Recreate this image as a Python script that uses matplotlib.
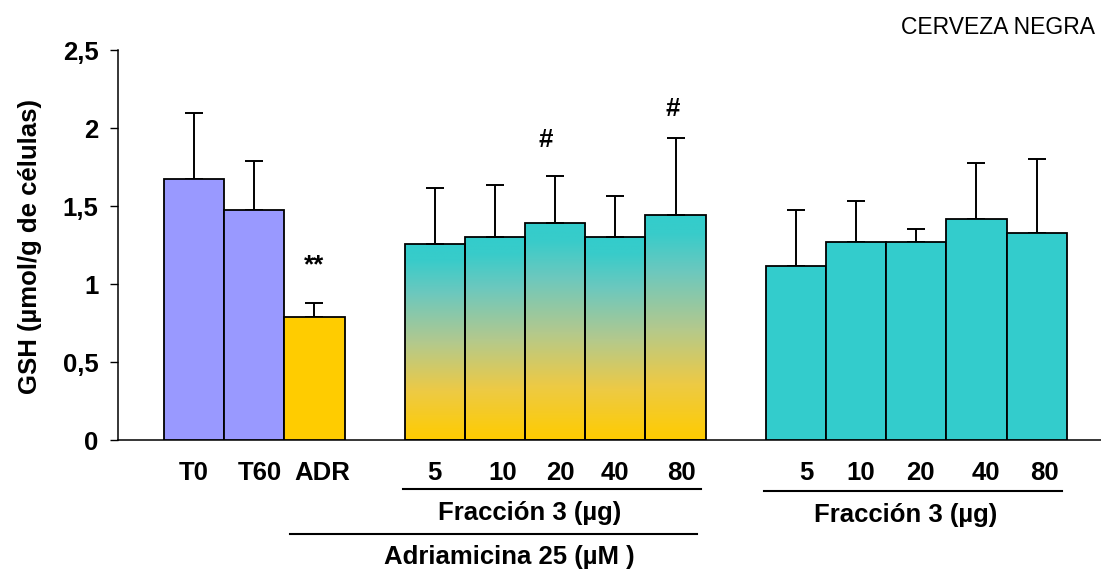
import matplotlib
matplotlib.use("Agg")
import matplotlib.pyplot as plt
import numpy as np
from matplotlib.colors import LinearSegmentedColormap
from matplotlib.transforms import blended_transform_factory
from matplotlib.lines import Line2D

plt.rcParams['font.family'] = ['Liberation Sans', 'DejaVu Sans']

# ---- data ----
control_labels = ["T0", "T60", "ADR"]
control_values = [1.673, 1.474, 0.788]
control_err_top = [2.096, 1.788, 0.878]

adr_labels = ["5", "10", "20", "40", "80"]
adr_values = [1.256, 1.301, 1.391, 1.301, 1.442]
adr_err_top = [1.615, 1.635, 1.692, 1.564, 1.936]

frac_labels = ["5", "10", "20", "40", "80"]
frac_values = [1.115, 1.269, 1.269, 1.417, 1.327]
frac_err_top = [1.474, 1.532, 1.353, 1.776, 1.801]

yticks = [0, 0.5, 1, 1.5, 2, 2.5]
ytick_labels = ["0", "0,5", "1", "1,5", "2", "2,5"]

# ---- layout ----
W, H = 1101, 570
FS = 18.5
fig = plt.figure(figsize=(W / 100, H / 100), dpi=100)
ax_left, ax_bottom, ax_top = 118, 440, 50
ax = fig.add_axes([ax_left / W, 1 - ax_bottom / H, 1 - ax_left / W, (ax_bottom - ax_top) / H])

x_ctrl = np.arange(3)
x_adr = np.arange(5) + 4
x_frac = np.arange(5) + 10
bw = 1.0

purple = "#9999FF"
yellow = "#FFCC00"
teal = "#33CCCC"
edge_kw = dict(edgecolor="black", linewidth=1.3, zorder=3)

ax.bar(x_ctrl, control_values, bw, color=[purple, purple, yellow], **edge_kw)
ax.bar(x_frac, frac_values, bw, color=teal, **edge_kw)
adr_bars = ax.bar(x_adr, adr_values, bw, color="none", **edge_kw)

cmap = LinearSegmentedColormap.from_list(
    "grad", [(0.0, "#FFCC00"), (0.25, "#EDCA45"), (0.5, "#B2C98E"),
             (0.75, "#6CC8BE"), (0.92, "#38CCCA"), (1.0, "#33CCCC")])
grad = np.linspace(0, 1, 256).reshape(-1, 1)
for b, xc, v in zip(adr_bars, x_adr, adr_values):
    im = ax.imshow(grad, cmap=cmap, aspect="auto", origin="lower",
                   extent=[xc - bw / 2, xc + bw / 2, 0, v], zorder=2)
    im.set_clip_path(b)

err_kw = dict(fmt="none", ecolor="black", elinewidth=1.4, capsize=6.5, capthick=1.4, zorder=2.5)
for xs, vals, tops in [(x_ctrl, control_values, control_err_top),
                       (x_adr, adr_values, adr_err_top),
                       (x_frac, frac_values, frac_err_top)]:
    vals = np.array(vals)
    tops = np.array(tops)
    ax.errorbar(xs, vals, yerr=[np.zeros_like(vals), tops - vals], **err_kw)

ax.set_xlim(-1.264, 15.07)
ax.set_ylim(0, 2.5)
ax.set_yticks(yticks)
ax.set_yticklabels(ytick_labels, fontsize=FS, fontweight="bold")
ax.tick_params(axis="y", direction="out", length=6, width=1, pad=8)
ax.set_xticks([])

trans = blended_transform_factory(ax.transData, fig.transFigure)
all_x = list(x_ctrl) + list(x_adr) + list(x_frac)
all_lab = control_labels + adr_labels + frac_labels
label_dx = [0, 0.1, 0.13, 0, 0.12, 0.08, 0, 0.1, 0.17, 0.07, 0.07, 0.15, 0.13]
for xc, lab, dx in zip(all_x, all_lab, label_dx):
    ax.text(xc + dx, 1 - 473 / H, lab, transform=trans, ha="center", va="center",
            fontsize=FS, fontweight="bold", clip_on=False)

for s in ["top", "right"]:
    ax.spines[s].set_visible(False)
ax.spines["left"].set_linewidth(1.1)
ax.spines["bottom"].set_linewidth(1.1)

# annotations
ax.annotate("**", xy=(x_ctrl[2], control_err_top[2]), xytext=(0, 38), textcoords="offset pixels",
            ha="center", va="center", fontsize=FS, fontweight="bold")
ax.annotate("#", xy=(x_adr[2], adr_err_top[2]), xytext=(-9, 36), textcoords="offset pixels",
            ha="center", va="center", fontsize=FS, fontweight="bold")
ax.annotate("#", xy=(x_adr[4], adr_err_top[4]), xytext=(-3, 29), textcoords="offset pixels",
            ha="center", va="center", fontsize=FS, fontweight="bold")

# group lines and labels
def hline(x0, x1, ypix):
    fig.add_artist(Line2D([x0, x1], [1 - ypix / H] * 2, transform=trans, color="black", linewidth=1.5))

hline(x_adr[0] - 0.53, x_adr[-1] + 0.42, 489)
ax.text(5.58, 1 - 513 / H, "Fracción 3 (µg)", transform=trans,
        ha="center", va="center", fontsize=FS, fontweight="bold")
hline(x_ctrl[2] - 0.4, x_adr[-1] + 0.35, 534)
ax.text(5.23, 1 - 557 / H, "Adriamicina 25 (µM )", transform=trans,
        ha="center", va="center", fontsize=FS, fontweight="bold")
hline(x_frac[0] - 0.53, x_frac[-1] + 0.42, 491)
ax.text(11.82, 1 - 515 / H, "Fracción 3 (µg)", transform=trans,
        ha="center", va="center", fontsize=FS, fontweight="bold")

fig.text(30 / W, 1 - 247 / H, "GSH (µmol/g de células)", rotation=90, ha="center", va="center",
         fontsize=FS, fontweight="bold")
fig.text(901 / W, 1 - 27 / H, "CERVEZA NEGRA", ha="left", va="center", fontsize=16.5)

fig.savefig("out.png", dpi=100)
